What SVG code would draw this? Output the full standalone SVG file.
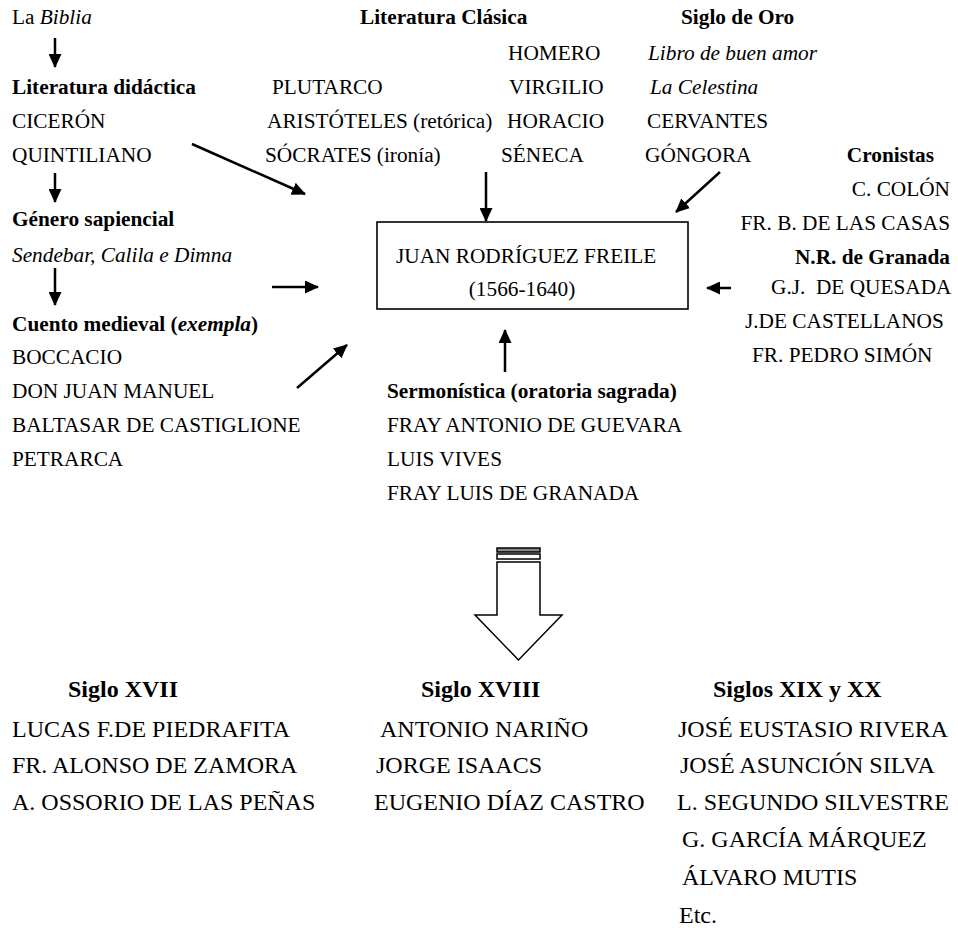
<svg xmlns="http://www.w3.org/2000/svg" width="958" height="928" viewBox="0 0 958 928">
  <defs>
    <marker id="head" markerUnits="userSpaceOnUse" markerWidth="14" markerHeight="13" refX="13" refY="6.5" orient="auto">
      <path d="M0,0 L14,6.5 L0,13 z" fill="#000"/>
    </marker>
    <style>
      text { font-family: "Liberation Serif", "Times New Roman", serif; font-size: 21.3px; fill: #000; }
      .lg { font-size: 24px; }
      .b { font-weight: bold; }
      .i { font-style: italic; }
      .r { text-anchor: end; }
      .conn line { stroke: #000; stroke-width: 2.5; marker-end: url(#head); }
      .box { fill: #fff; stroke: #000; stroke-width: 1.6; }
    </style>
  </defs>
  <rect width="958" height="928" fill="#fff"/>

  <!-- Left column: Biblia, didactic literature, wisdom genre, medieval tale -->
  <g id="biblia"><text x="12" y="24">La <tspan class="i">Biblia</tspan></text></g>
  <g id="didactica">
    <text x="12" y="94" class="b">Literatura didáctica</text>
    <text x="12" y="128">CICERÓN</text>
    <text x="12" y="162">QUINTILIANO</text>
  </g>
  <g id="sapiencial">
    <text x="12" y="226" class="b">Género sapiencial</text>
    <text x="12" y="262" class="i">Sendebar, Calila e Dimna</text>
  </g>
  <g id="cuento">
    <text x="12" y="331" class="b">Cuento medieval (<tspan class="i">exempla</tspan>)</text>
    <text x="12" y="364">BOCCACIO</text>
    <text x="12" y="398">DON JUAN MANUEL</text>
    <text x="12" y="432">BALTASAR DE CASTIGLIONE</text>
    <text x="12" y="466">PETRARCA</text>
  </g>

  <!-- Classical literature -->
  <g id="clasica">
    <text x="360" y="24" class="b">Literatura Clásica</text>
    <text x="272" y="94">PLUTARCO</text>
    <text x="267" y="128">ARISTÓTELES (retórica)</text>
    <text x="265" y="162">SÓCRATES (ironía)</text>
    <text x="508" y="60">HOMERO</text>
    <text x="509" y="94">VIRGILIO</text>
    <text x="507" y="128">HORACIO</text>
    <text x="501" y="162">SÉNECA</text>
  </g>

  <!-- Golden Age -->
  <g id="siglo-oro">
    <text x="681" y="24" class="b">Siglo de Oro</text>
    <text x="648" y="60" class="i">Libro de buen amor</text>
    <text x="650" y="94" class="i">La Celestina</text>
    <text x="647" y="128">CERVANTES</text>
    <text x="645" y="162">GÓNGORA</text>
  </g>

  <!-- Chroniclers and New Kingdom of Granada -->
  <g id="cronistas">
    <text x="934" y="162" class="b r">Cronistas</text>
    <text x="950" y="196" class="r">C. COLÓN</text>
    <text x="950" y="230" class="r">FR. B. DE LAS CASAS</text>
  </g>
  <g id="granada">
    <text x="950" y="264" class="b r">N.R. de Granada</text>
    <text x="771" y="294" xml:space="preserve">G.J.  DE QUESADA</text>
    <text x="745" y="328">J.DE CASTELLANOS</text>
    <text x="752" y="362">FR. PEDRO SIMÓN</text>
  </g>

  <!-- Central author -->
  <g id="freile">
    <rect class="box" x="377" y="222" width="311" height="87"/>
    <text x="396" y="263">JUAN RODRÍGUEZ FREILE</text>
    <text x="522" y="296" text-anchor="middle">(1566-1640)</text>
  </g>

  <!-- Sacred oratory -->
  <g id="sermonistica">
    <text x="387" y="398" class="b">Sermonística (oratoria sagrada)</text>
    <text x="387" y="432">FRAY ANTONIO DE GUEVARA</text>
    <text x="387" y="466">LUIS VIVES</text>
    <text x="387" y="500">FRAY LUIS DE GRANADA</text>
  </g>

  <!-- Legacy by century -->
  <g id="siglo-xvii">
    <text x="68" y="697" class="b lg">Siglo XVII</text>
    <text x="12" y="737" class="lg">LUCAS F.DE PIEDRAFITA</text>
    <text x="12" y="773" class="lg">FR. ALONSO DE ZAMORA</text>
    <text x="12" y="810" class="lg">A. OSSORIO DE LAS PEÑAS</text>
  </g>
  <g id="siglo-xviii">
    <text x="421" y="697" class="b lg">Siglo XVIII</text>
    <text x="380" y="737" class="lg">ANTONIO NARIÑO</text>
    <text x="376" y="773" class="lg">JORGE ISAACS</text>
    <text x="374" y="810" class="lg">EUGENIO DÍAZ CASTRO</text>
  </g>
  <g id="siglos-xix-xx">
    <text x="713" y="697" class="b lg">Siglos XIX y XX</text>
    <text x="678" y="737" class="lg">JOSÉ EUSTASIO RIVERA</text>
    <text x="680" y="773" class="lg">JOSÉ ASUNCIÓN SILVA</text>
    <text x="677" y="810" class="lg">L. SEGUNDO SILVESTRE</text>
    <text x="682" y="847" class="lg">G. GARCÍA MÁRQUEZ</text>
    <text x="682" y="885" class="lg">ÁLVARO MUTIS</text>
    <text x="679" y="923" class="lg">Etc.</text>
  </g>

  <!-- Connectors -->
  <g id="connectors" class="conn">
    <line x1="55" y1="38" x2="55" y2="67"/>
    <line x1="55" y1="173" x2="55" y2="202"/>
    <line x1="55" y1="268" x2="55" y2="305"/>
    <line x1="192" y1="144" x2="305" y2="194"/>
    <line x1="272" y1="287" x2="318" y2="287"/>
    <line x1="297" y1="388" x2="347" y2="345"/>
    <line x1="486" y1="172" x2="486" y2="221"/>
    <line x1="720" y1="172" x2="676" y2="212"/>
    <line x1="731" y1="288" x2="707" y2="288"/>
    <line x1="505" y1="372" x2="505" y2="330"/>
    <!-- Striped block arrow pointing to the legacy -->
    <g id="legacy-arrow" stroke="#000" stroke-width="1.5">
      <rect x="497" y="548" width="43" height="4" fill="#888"/>
      <rect x="497" y="554" width="43" height="5" fill="#fff"/>
      <polygon points="497,562 540,562 540,615 562,615 518.5,660 475,615 497,615" fill="#fff" stroke-linejoin="miter"/>
    </g>
  </g>
</svg>
